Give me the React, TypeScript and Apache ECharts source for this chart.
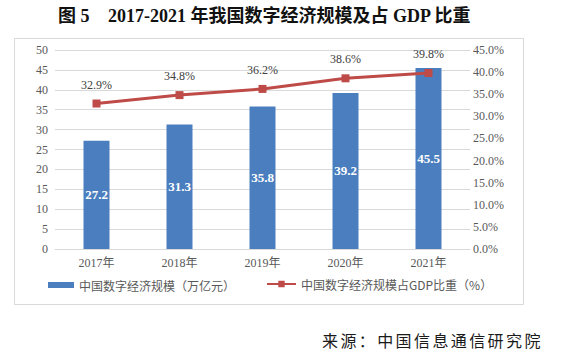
import React, { useEffect, useRef } from "react";
import * as echarts from "echarts";

const categories = ["2017年", "2018年", "2019年", "2020年", "2021年"];
const scaleValues = [27.2, 31.3, 35.8, 39.2, 45.5];
const shareValues = [32.9, 34.8, 36.2, 38.6, 39.8];
const barName = "中国数字经济规模（万亿元）";
const lineName = "中国数字经济规模占GDP比重（%）";
const titleHead = "图 5";
const titleBody = "2017-2021 年我国数字经济规模及占 GDP 比重";
const sourceChars = "来源：中国信息通信研究院".split("");

const SERIF = "'Liberation Serif', 'Noto Sans CJK SC', serif";
const SANS = "'Noto Sans CJK SC', sans-serif";

export default function App() {
  const ref = useRef<HTMLDivElement>(null);
  useEffect(() => {
    if (!ref.current) return;
    const chart = echarts.init(ref.current, null, { renderer: "svg" });
    const sourceGraphics = sourceChars.map((c, i) => ({
      type: "text",
      x: 322 + i * 18.4,
      y: 340,
      style: {
        text: c,
        font: `16px ${SANS}`,
        fill: "#1a1a1a",
        verticalAlign: "middle",
        textAlign: "left",
      },
    }));
    chart.setOption({
      animation: false,
      backgroundColor: "#ffffff",
      grid: { left: 55, right: 97, top: 50, bottom: 110, containLabel: false },
      graphic: [
        {
          type: "rect",
          shape: { x: 14.5, y: 38.5, width: 509, height: 266 },
          style: { fill: "none", stroke: "#d9d9d9", lineWidth: 1 },
          silent: true,
        },
        {
          type: "text",
          x: 58,
          y: 16,
          style: {
            text: titleHead,
            font: `bold 18px ${SERIF}`,
            fill: "#111111",
            textAlign: "left",
            verticalAlign: "middle",
          },
        },
        {
          type: "text",
          x: 108,
          y: 16,
          style: {
            text: titleBody,
            font: `bold 18px ${SERIF}`,
            fill: "#111111",
            textAlign: "left",
            verticalAlign: "middle",
          },
        },
        ...sourceGraphics,
      ],
      legend: [
        {
          data: [{ name: barName, icon: "rect" }],
          left: 48,
          top: 279,
          padding: 0,
          itemWidth: 26,
          itemHeight: 6,
          textStyle: { fontSize: 12, color: "#595959", fontFamily: SANS },
        },
        {
          data: [{ name: lineName }],
          left: 266,
          top: 278,
          padding: 0,
          itemWidth: 29,
          itemHeight: 8,
          textStyle: { fontSize: 12, color: "#595959", fontFamily: SANS },
        },
      ],
      xAxis: {
        type: "category",
        data: categories,
        axisLine: { lineStyle: { color: "#d9d9d9" } },
        axisTick: { show: false },
        axisLabel: { color: "#595959", fontSize: 12, fontFamily: SERIF, margin: 8 },
      },
      yAxis: [
        {
          type: "value",
          min: 0,
          max: 50,
          interval: 5,
          axisLine: { show: false },
          axisTick: { show: false },
          axisLabel: { color: "#595959", fontSize: 12, fontFamily: SERIF, margin: 7 },
          splitLine: { lineStyle: { color: "#d9d9d9" } },
        },
        {
          type: "value",
          min: 0,
          max: 45,
          interval: 5,
          axisLine: { show: false },
          axisTick: { show: false },
          splitLine: { show: false },
          axisLabel: {
            color: "#595959",
            fontSize: 12,
            fontFamily: SERIF,
            margin: 3,
            formatter: (v: number) => v.toFixed(1) + "%",
          },
        },
      ],
      series: [
        {
          name: barName,
          type: "bar",
          data: scaleValues,
          barWidth: 26,
          itemStyle: { color: "#4A7EBE" },
          label: {
            show: true,
            position: "inside",
            color: "#ffffff",
            fontWeight: "bold",
            fontSize: 13,
            fontFamily: SERIF,
          },
        },
        {
          name: lineName,
          type: "line",
          yAxisIndex: 1,
          data: shareValues,
          symbol: "rect",
          symbolSize: 8,
          lineStyle: { color: "#BE4B48", width: 3 },
          itemStyle: { color: "#BE4B48" },
          label: {
            show: true,
            position: "top",
            distance: 9,
            color: "#404040",
            fontSize: 12,
            fontFamily: SERIF,
            formatter: (p: any) => p.value.toFixed(1) + "%",
          },
        },
      ],
    });
    return () => chart.dispose();
  }, []);
  return (
    <div
      ref={ref}
      style={{ position: "fixed", left: 0, top: 0, width: 567, height: 359 }}
    />
  );
}
